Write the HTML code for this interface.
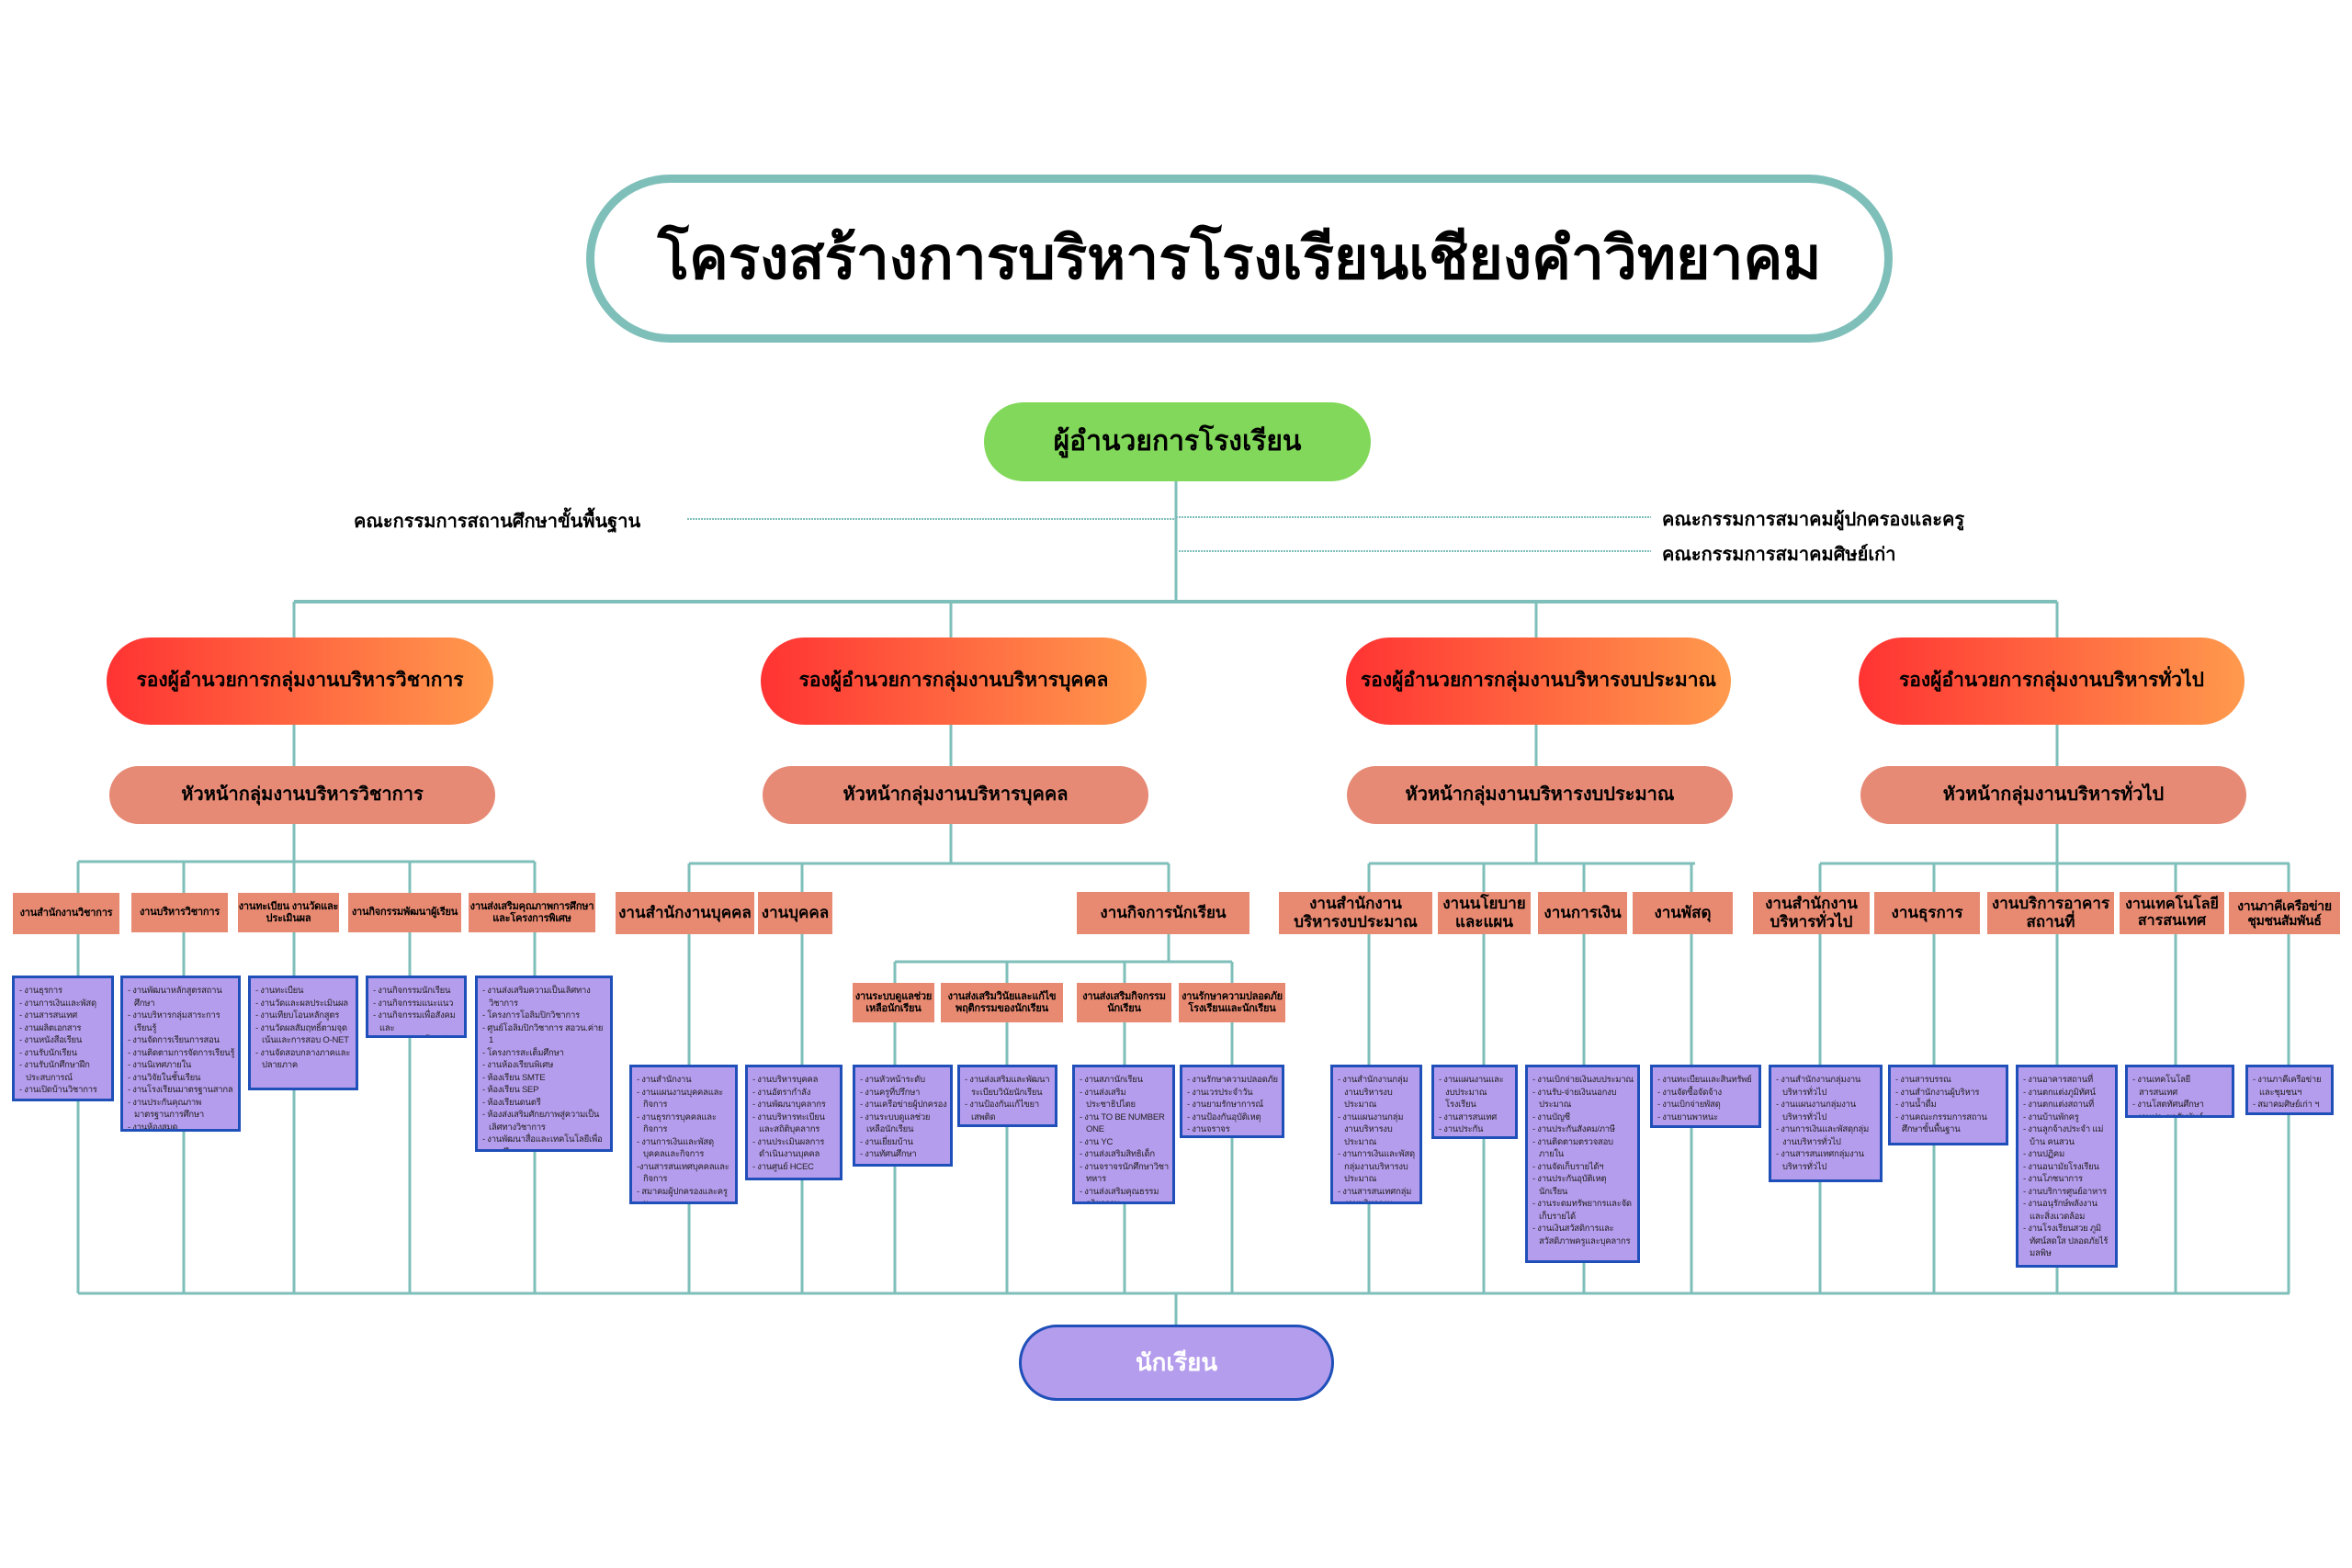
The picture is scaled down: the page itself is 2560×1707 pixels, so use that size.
<!DOCTYPE html>
<html><head><meta charset="utf-8"><style>
*{margin:0;padding:0;box-sizing:border-box}
body{width:2560px;height:1707px;background:#fff;position:relative;overflow:hidden;font-family:"Liberation Sans","Noto Sans CJK SC",sans-serif;color:#000}
.a{position:absolute}
.t{position:absolute;display:flex;align-items:center;justify-content:center;text-align:center;font-weight:bold;line-height:1.15}
.s{background:#e88a72;font-size:17px}
.ss{background:#e88a72;font-size:11px;letter-spacing:-0.2px}
.dep{background:linear-gradient(90deg,#ff3333,#ff9a4d);border-radius:48px;font-size:21px}
.head{background:#e68a75;border-radius:32px;font-size:20px}
.p{position:absolute;background:#b59ded;border:3px solid #1f4fb8;font-size:9.5px;letter-spacing:-0.25px;line-height:13.5px;padding:7px 3px 4px 5px;overflow:hidden;white-space:nowrap;color:#222}
.p div{padding-left:7px;text-indent:-7px;white-space:normal}
.lbl{position:absolute;font-size:20px;font-weight:bold;white-space:nowrap}
</style></head><body>
<svg class="a" style="left:0;top:0" width="2560" height="1707">
<g stroke="#7fbfba" stroke-width="3" fill="none">
<line x1="1280" y1="524" x2="1280" y2="655"/>
<line x1="320" y1="655" x2="2239" y2="655" stroke-width="4"/>
<line x1="320" y1="655" x2="320" y2="937"/>
<line x1="1035" y1="655" x2="1035" y2="940"/>
<line x1="1672" y1="655" x2="1672" y2="940"/>
<line x1="2239" y1="655" x2="2239" y2="940"/>
<line x1="85" y1="938" x2="582" y2="938"/>
<line x1="85" y1="938" x2="85" y2="1408"/>
<line x1="200" y1="938" x2="200" y2="1408"/>
<line x1="320" y1="938" x2="320" y2="1408"/>
<line x1="446" y1="938" x2="446" y2="1408"/>
<line x1="582" y1="938" x2="582" y2="1408"/>
<line x1="750" y1="940" x2="1272" y2="940"/>
<line x1="750" y1="940" x2="750" y2="1408"/>
<line x1="873" y1="940" x2="873" y2="1408"/>
<line x1="1272" y1="940" x2="1272" y2="1047"/>
<line x1="974" y1="1047" x2="1341" y2="1047"/>
<line x1="974" y1="1047" x2="974" y2="1408"/>
<line x1="1096" y1="1047" x2="1096" y2="1408"/>
<line x1="1224" y1="1047" x2="1224" y2="1408"/>
<line x1="1341" y1="1047" x2="1341" y2="1408"/>
<line x1="1490" y1="940" x2="1845" y2="940"/>
<line x1="1490" y1="940" x2="1490" y2="1408"/>
<line x1="1615" y1="940" x2="1615" y2="1408"/>
<line x1="1724" y1="940" x2="1724" y2="1408"/>
<line x1="1841" y1="940" x2="1841" y2="1408"/>
<line x1="1981" y1="940" x2="2492" y2="940"/>
<line x1="1981" y1="940" x2="1981" y2="1408"/>
<line x1="2105" y1="940" x2="2105" y2="1408"/>
<line x1="2239" y1="940" x2="2239" y2="1408"/>
<line x1="2368" y1="940" x2="2368" y2="1408"/>
<line x1="2491" y1="940" x2="2491" y2="1408"/>
<line x1="85" y1="1408" x2="2492" y2="1408"/>
<line x1="1280" y1="1408" x2="1280" y2="1442"/>
</g>
<g stroke="#7fbfba" stroke-width="2" stroke-dasharray="2,1" fill="none">
<line x1="748" y1="565" x2="1280" y2="565"/>
<line x1="1280" y1="563" x2="1797" y2="563"/>
<line x1="1283" y1="600" x2="1797" y2="600"/>
</g>
</svg>

<div class="t" style="left:638px;top:190px;width:1422px;height:183px;border:9px solid #7fbfba;border-radius:92px;font-size:64px;background:#fff">โครงสร้างการบริหารโรงเรียนเชียงคำวิทยาคม</div>

<div class="t" style="left:1071px;top:438px;width:421px;height:86px;background:#82d85a;border-radius:43px;font-size:30px">ผู้อำนวยการโรงเรียน</div>

<div class="lbl" style="left:385px;top:551px">คณะกรรมการสถานศึกษาขั้นพื้นฐาน</div>
<div class="lbl" style="left:1809px;top:549px">คณะกรรมการสมาคมผู้ปกครองและครู</div>
<div class="lbl" style="left:1809px;top:587px">คณะกรรมการสมาคมศิษย์เก่า</div>

<div class="t dep" style="left:116px;top:694px;width:421px;height:95px">รองผู้อำนวยการกลุ่มงานบริหารวิชาการ</div>
<div class="t dep" style="left:828px;top:694px;width:420px;height:95px">รองผู้อำนวยการกลุ่มงานบริหารบุคคล</div>
<div class="t dep" style="left:1465px;top:694px;width:419px;height:95px">รองผู้อำนวยการกลุ่มงานบริหารงบประมาณ</div>
<div class="t dep" style="left:2023px;top:694px;width:420px;height:95px">รองผู้อำนวยการกลุ่มงานบริหารทั่วไป</div>

<div class="t head" style="left:119px;top:834px;width:420px;height:63px">หัวหน้ากลุ่มงานบริหารวิชาการ</div>
<div class="t head" style="left:830px;top:834px;width:420px;height:63px">หัวหน้ากลุ่มงานบริหารบุคคล</div>
<div class="t head" style="left:1466px;top:834px;width:420px;height:63px">หัวหน้ากลุ่มงานบริหารงบประมาณ</div>
<div class="t head" style="left:2025px;top:834px;width:420px;height:63px">หัวหน้ากลุ่มงานบริหารทั่วไป</div>

<div class="t ss" style="left:14px;top:972px;width:116px;height:45px">งานสำนักงานวิชาการ</div>
<div class="t ss" style="left:143px;top:972px;width:105px;height:43px">งานบริหารวิชาการ</div>
<div class="t ss" style="left:259px;top:972px;width:110px;height:43px">งานทะเบียน งานวัดและประเมินผล</div>
<div class="t ss" style="left:379px;top:972px;width:123px;height:43px">งานกิจกรรมพัฒนาผู้เรียน</div>
<div class="t ss" style="left:510px;top:972px;width:138px;height:43px">งานส่งเสริมคุณภาพการศึกษาและโครงการพิเศษ</div>

<div class="p" style="left:13px;top:1062px;width:111px;height:137px"><div>- งานธุรการ</div><div>- งานการเงินและพัสดุ</div><div>- งานสารสนเทศ</div><div>- งานผลิตเอกสาร</div><div>- งานหนังสือเรียน</div><div>- งานรับนักเรียน</div><div>- งานรับนักศึกษาฝึกประสบการณ์</div><div>- งานเปิดบ้านวิชาการ</div></div>
<div class="p" style="left:131px;top:1062px;width:131px;height:170px"><div>- งานพัฒนาหลักสูตรสถานศึกษา</div><div>- งานบริหารกลุ่มสาระการเรียนรู้</div><div>- งานจัดการเรียนการสอน</div><div>- งานติดตามการจัดการเรียนรู้</div><div>- งานนิเทศภายใน</div><div>- งานวิจัยในชั้นเรียน</div><div>- งานโรงเรียนมาตรฐานสากล</div><div>- งานประกันคุณภาพมาตรฐานการศึกษา</div><div>- งานห้องสมุด</div></div>
<div class="p" style="left:270px;top:1062px;width:120px;height:125px"><div>- งานทะเบียน</div><div>- งานวัดและผลประเมินผล</div><div>- งานเทียบโอนหลักสูตร</div><div>- งานวัดผลสัมฤทธิ์ตามจุดเน้นและการสอบ O-NET</div><div>- งานจัดสอบกลางภาคและปลายภาค</div></div>
<div class="p" style="left:398px;top:1062px;width:110px;height:68px"><div>- งานกิจกรรมนักเรียน</div><div>- งานกิจกรรมแนะแนว</div><div>- งานกิจกรรมเพื่อสังคมและสาธารณประโยชน์</div></div>
<div class="p" style="left:517px;top:1062px;width:150px;height:192px"><div>- งานส่งเสริมความเป็นเลิศทางวิชาการ</div><div>- โครงการโอลิมปิกวิชาการ</div><div>- ศูนย์โอลิมปิกวิชาการ สอวน.ค่าย 1</div><div>- โครงการสะเต็มศึกษา</div><div>- งานห้องเรียนพิเศษ</div><div>- ห้องเรียน SMTE</div><div>- ห้องเรียน SEP</div><div>- ห้องเรียนดนตรี</div><div>- ห้องส่งเสริมศักยภาพสู่ความเป็นเลิศทางวิชาการ</div><div>- งานพัฒนาสื่อและเทคโนโลยีเพื่อการศึกษา</div></div>

<div class="t s" style="left:670px;top:971px;width:151px;height:46px">งานสำนักงานบุคคล</div>
<div class="t s" style="left:825px;top:971px;width:81px;height:46px">งานบุคคล</div>
<div class="t s" style="left:1172px;top:971px;width:188px;height:46px">งานกิจการนักเรียน</div>
<div class="t ss" style="left:928px;top:1070px;width:89px;height:43px">งานระบบดูแลช่วยเหลือนักเรียน</div>
<div class="t ss" style="left:1024px;top:1070px;width:133px;height:43px">งานส่งเสริมวินัยและแก้ไขพฤติกรรมของนักเรียน</div>
<div class="t ss" style="left:1172px;top:1070px;width:103px;height:43px">งานส่งเสริมกิจกรรมนักเรียน</div>
<div class="t ss" style="left:1283px;top:1070px;width:116px;height:43px">งานรักษาความปลอดภัยโรงเรียนและนักเรียน</div>

<div class="p" style="left:685px;top:1159px;width:118px;height:152px"><div>- งานสำนักงาน</div><div>- งานแผนงานบุคคลและกิจการ</div><div>- งานธุรการบุคคลและกิจการ</div><div>- งานการเงินและพัสดุบุคคลและกิจการ</div><div>-งานสารสนเทศบุคคลและกิจการ</div><div>- สมาคมผู้ปกครองและครู ฯ</div></div>
<div class="p" style="left:811px;top:1159px;width:106px;height:126px"><div>- งานบริหารบุคคล</div><div>- งานอัตรากำลัง</div><div>- งานพัฒนาบุคลากร</div><div>- งานบริหารทะเบียนและสถิติบุคลากร</div><div>- งานประเมินผลการดำเนินงานบุคคล</div><div>- งานศูนย์ HCEC</div></div>
<div class="p" style="left:928px;top:1159px;width:109px;height:111px"><div>- งานหัวหน้าระดับ</div><div>- งานครูที่ปรึกษา</div><div>- งานเครือข่ายผู้ปกครอง</div><div>- งานระบบดูแลช่วยเหลือนักเรียน</div><div>- งานเยี่ยมบ้าน</div><div>- งานทัศนศึกษา</div></div>
<div class="p" style="left:1042px;top:1159px;width:109px;height:68px"><div>- งานส่งเสริมและพัฒนาระเบียบวินัยนักเรียน</div><div>- งานป้องกันแก้ไขยาเสพติด</div></div>
<div class="p" style="left:1167px;top:1159px;width:112px;height:152px"><div>- งานสภานักเรียน</div><div>- งานส่งเสริมประชาธิปไตย</div><div>- งาน TO BE NUMBER ONE</div><div>- งาน YC</div><div>- งานส่งเสริมสิทธิเด็ก</div><div>- งานจราจรนักศึกษาวิชาทหาร</div><div>- งานส่งเสริมคุณธรรมจริยธรรม</div></div>
<div class="p" style="left:1284px;top:1159px;width:114px;height:80px"><div>- งานรักษาความปลอดภัย</div><div>- งานเวรประจำวัน</div><div>- งานยามรักษาการณ์</div><div>- งานป้องกันอุบัติเหตุ</div><div>- งานจราจร</div></div>

<div class="t s" style="left:1392px;top:971px;width:167px;height:46px">งานสำนักงาน<br>บริหารงบประมาณ</div>
<div class="t s" style="left:1565px;top:971px;width:101px;height:46px">งานนโยบาย<br>และแผน</div>
<div class="t s" style="left:1674px;top:971px;width:97px;height:46px">งานการเงิน</div>
<div class="t s" style="left:1777px;top:971px;width:109px;height:46px">งานพัสดุ</div>

<div class="p" style="left:1448px;top:1159px;width:100px;height:152px"><div>- งานสำนักงานกลุ่มงานบริหารงบประมาณ</div><div>- งานแผนงานกลุ่มงานบริหารงบประมาณ</div><div>- งานการเงินและพัสดุกลุ่มงานบริหารงบประมาณ</div><div>- งานสารสนเทศกลุ่มงานบริหารงบประมาณ</div></div>
<div class="p" style="left:1558px;top:1159px;width:94px;height:81px"><div>- งานแผนงานและงบประมาณโรงเรียน</div><div>- งานสารสนเทศ</div><div>- งานประกันคุณภาพ</div><div>- งานควบคุมภายใน</div></div>
<div class="p" style="left:1660px;top:1159px;width:125px;height:216px"><div>- งานเบิกจ่ายเงินงบประมาณ</div><div>- งานรับ-จ่ายเงินนอกงบประมาณ</div><div>- งานบัญชี</div><div>- งานประกันสังคม/ภาษี</div><div>- งานติดตามตรวจสอบภายใน</div><div>- งานจัดเก็บรายได้ฯ</div><div>- งานประกันอุบัติเหตุนักเรียน</div><div>- งานระดมทรัพยากรและจัดเก็บรายได้</div><div>- งานเงินสวัสดิการและสวัสดิภาพครูและบุคลากร</div></div>
<div class="p" style="left:1796px;top:1159px;width:121px;height:69px"><div>- งานทะเบียนและสินทรัพย์</div><div>- งานจัดซื้อจัดจ้าง</div><div>- งานเบิกจ่ายพัสดุ</div><div>- งานยานพาหนะ</div></div>

<div class="t s" style="left:1908px;top:971px;width:127px;height:46px">งานสำนักงาน<br>บริหารทั่วไป</div>
<div class="t s" style="left:2040px;top:971px;width:115px;height:46px">งานธุรการ</div>
<div class="t s" style="left:2163px;top:971px;width:138px;height:46px">งานบริการอาคาร<br>สถานที่</div>
<div class="t s" style="left:2307px;top:971px;width:114px;height:46px;font-size:16px">งานเทคโนโลยี<br>สารสนเทศ</div>
<div class="t s" style="left:2426px;top:971px;width:121px;height:46px;font-size:14px;letter-spacing:-0.3px">งานภาคีเครือข่าย<br>ชุมชนสัมพันธ์</div>

<div class="p" style="left:1925px;top:1159px;width:124px;height:128px"><div>- งานสำนักงานกลุ่มงานบริหารทั่วไป</div><div>- งานแผนงานกลุ่มงานบริหารทั่วไป</div><div>- งานการเงินและพัสดุกลุ่มงานบริหารทั่วไป</div><div>- งานสารสนเทศกลุ่มงานบริหารทั่วไป</div></div>
<div class="p" style="left:2055px;top:1159px;width:131px;height:88px"><div>- งานสารบรรณ</div><div>- งานสำนักงานผู้บริหาร</div><div>- งานน้ำดื่ม</div><div>- งานคณะกรรมการสถานศึกษาขั้นพื้นฐาน</div></div>
<div class="p" style="left:2194px;top:1159px;width:111px;height:221px"><div>- งานอาคารสถานที่</div><div>- งานตกแต่งภูมิทัศน์</div><div>- งานตกแต่งสถานที่</div><div>- งานบ้านพักครู</div><div>- งานลูกจ้างประจำ แม่บ้าน คนสวน</div><div>- งานปฏิคม</div><div>- งานอนามัยโรงเรียน</div><div>- งานโภชนาการ</div><div>- งานบริการศูนย์อาหาร</div><div>- งานอนุรักษ์พลังงานและสิ่งแวดล้อม</div><div>- งานโรงเรียนสวย ภูมิทัศน์สดใส ปลอดภัยไร้มลพิษ</div></div>
<div class="p" style="left:2313px;top:1159px;width:119px;height:58px"><div>- งานเทคโนโลยีสารสนเทศ</div><div>- งานโสตทัศนศึกษา</div><div>- งานประชาสัมพันธ์</div></div>
<div class="p" style="left:2444px;top:1159px;width:96px;height:55px"><div>- งานภาคีเครือข่ายและชุมชนฯ</div><div>- สมาคมศิษย์เก่า ฯ</div></div>

<div class="t" style="left:1109px;top:1442px;width:343px;height:83px;background:#b59ded;border:3px solid #1f4fb8;border-radius:42px;font-size:26px;color:#fff">นักเรียน</div>
</body></html>
